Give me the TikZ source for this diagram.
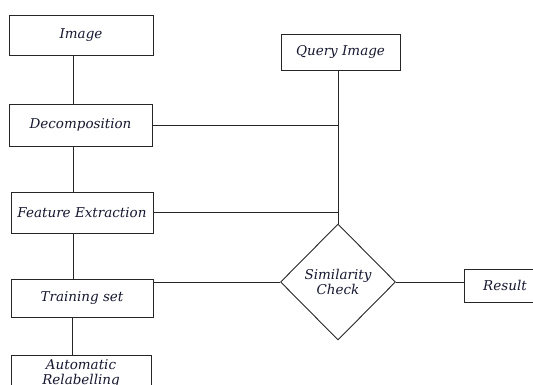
\documentclass[tikz,border=0pt]{standalone}
\usepackage{fontspec}
\setmainfont{DejaVu Serif}
\usepackage{tikz}
\usetikzlibrary{shapes,positioning,calc}
\usepackage{xcolor}
\definecolor{inkblue}{RGB}{22,24,48}

\begin{document}
\begin{tikzpicture}[
    x=1pt, y=-1pt,
    every node/.style={
        draw=black!85,
        line width=0.9pt,
        inner sep=1pt,
        align=center,
        text=inkblue,
        font=\fontsize{13.5}{15}\selectfont\itshape
    },
    stepbox/.style={rectangle},
    check/.style={diamond, minimum width=115pt, minimum height=116pt, inner sep=0pt},
    link/.style={draw=black!85, line width=0.8pt}
]
\useasboundingbox (0,0) rectangle (533,385);

% -------- Left column --------
\node[stepbox, minimum width=144pt, minimum height=40pt] (img) at (81,35) {Image};
\node[stepbox, minimum width=143pt, minimum height=42pt] (dec) at (80.5,125) {Decomposition};
\node[stepbox, minimum width=142pt, minimum height=41pt] (fe) at (82,212.5) {Feature Extraction};
\node[stepbox, minimum width=142pt, minimum height=38pt] (ts) at (82,298) {Training set};
\node[stepbox, minimum width=140pt, minimum height=38pt] (ar) at (81,374) {Automatic\\Relabelling};

% -------- Right side --------
\node[stepbox, minimum width=119pt, minimum height=36pt] (qi) at (340.5,52) {Query Image};
\node[check] (sim) at (338,282) {Similarity\\Check};
\node[stepbox, minimum width=82pt, minimum height=33pt] (res) at (505,285.5) {Result};

% -------- Connectors --------
\draw[link] ([xshift=-8pt]img.south) -- ([xshift=-7.5pt]dec.north);
\draw[link] ([xshift=-7.5pt]dec.south) -- ([xshift=-9pt]fe.north);
\draw[link] ([xshift=-9pt]fe.south) -- ([xshift=-9pt]ts.north);
\draw[link] ([xshift=-10pt]ts.south) -- ([xshift=-9pt]ar.north);

\draw[link] (sim.north |- qi.south) -- (sim.north);
\draw[link] (dec.east) -- (dec.east -| sim.north);
\draw[link] (fe.east) -- (fe.east -| sim.north);
\draw[link] (sim.west -| ts.east) -- (sim.west);
\draw[link] (sim.east) -- (sim.east -| res.west);

\end{tikzpicture}
\end{document}
